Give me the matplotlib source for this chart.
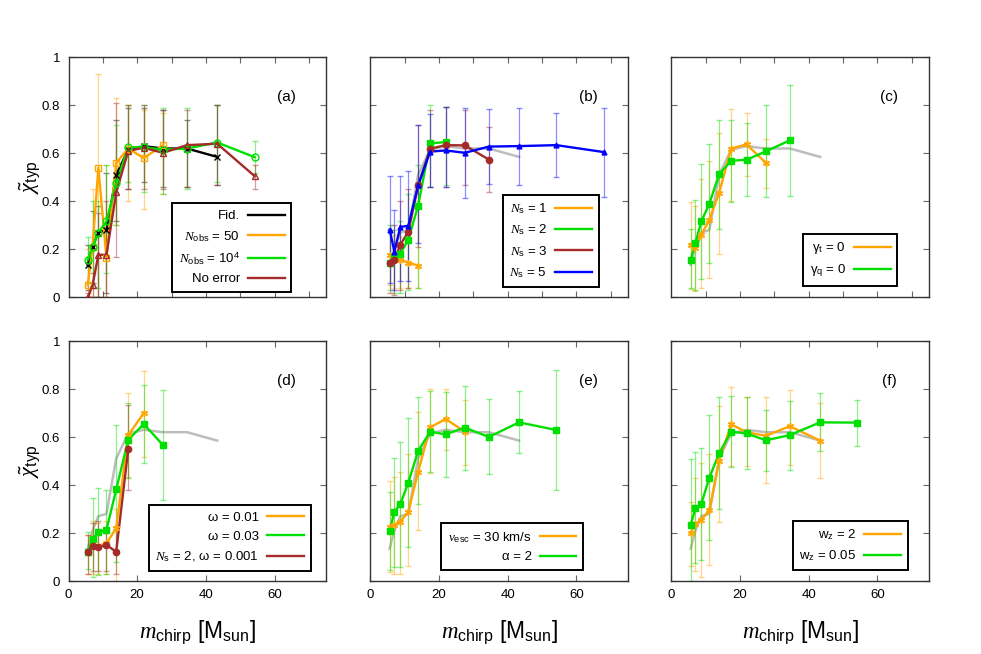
import numpy as np
import matplotlib
matplotlib.use("Agg")
import matplotlib.pyplot as plt

plt.rcParams["font.family"] = ["Liberation Sans", "DejaVu Sans"]
plt.rcParams["mathtext.fontset"] = "custom"
plt.rcParams["mathtext.rm"] = "Liberation Sans"
plt.rcParams["mathtext.it"] = "Liberation Serif:italic"

# chirp-mass bins (M_sun)
MC = [5.6, 7.0, 8.7, 11.05, 13.9, 17.4, 21.9, 27.5, 34.5, 43.3, 54.2, 68.0]

# (a)
FID_Y = [0.135, 0.21, 0.27, 0.28, 0.51, 0.615, 0.63, 0.62, 0.62, 0.585]
FID_LO = [0.03, 0.06, 0.0, 0.02, 0.32, 0.45, 0.48, 0.46, 0.46, 0.47]
FID_HI = [0.22, 0.36, 0.38, 0.52, 0.74, 0.79, 0.79, 0.78, 0.74, 0.80]
NOBS50_Y = [0.05, 0.21, 0.54, 0.165, 0.56, 0.62, 0.58, 0.633]
NOBS50_LO = [0.0, 0.0, 0.0, 0.0, 0.30, 0.40, 0.37, 0.43]
NOBS50_HI = [0.20, 0.45, 0.93, 0.55, 0.83, 0.80, 0.78, 0.77]
NOBS1E4_Y = [0.156, 0.21, 0.27, 0.316, 0.475, 0.625, 0.625, 0.615, 0.62, 0.645, 0.584]
NOBS1E4_LO = [0.06, 0.04, 0.04, 0.10, 0.30, 0.48, 0.44, 0.43, 0.45, 0.48, 0.52]
NOBS1E4_HI = [0.25, 0.40, 0.40, 0.55, 0.72, 0.80, 0.80, 0.79, 0.79, 0.80, 0.65]
NOERR_Y = [0.0, 0.05, 0.177, 0.177, 0.437, 0.61, 0.623, 0.602, 0.634, 0.64, 0.505]
NOERR_LO = [0.0, 0.0, 0.0, 0.0, 0.17, 0.45, 0.45, 0.45, 0.46, 0.47, 0.45]
NOERR_HI = [0.02, 0.10, 0.35, 0.40, 0.81, 0.80, 0.80, 0.78, 0.78, 0.80, 0.55]

# (b)
NS1_Y = [0.177, 0.159, 0.156, 0.145, 0.132]
NS1_LO = [0.05, 0.04, 0.04, 0.04, 0.04]
NS1_HI = [0.28, 0.26, 0.25, 0.25, 0.40]
NS2_Y = [0.142, 0.17, 0.181, 0.24, 0.382, 0.641, 0.647]
NS2_LO = [0.03, 0.02, 0.02, 0.03, 0.04, 0.46, 0.47]
NS2_HI = [0.30, 0.28, 0.32, 0.43, 0.55, 0.80, 0.795]
NS3_Y = [0.142, 0.156, 0.219, 0.272, 0.466, 0.619, 0.634, 0.633, 0.574]
NS3_LO = [0.02, 0.01, 0.03, 0.04, 0.21, 0.46, 0.46, 0.47, 0.44]
NS3_HI = [0.28, 0.30, 0.40, 0.45, 0.72, 0.78, 0.795, 0.78, 0.71]
NS5_Y = [0.282, 0.19, 0.293, 0.298, 0.466, 0.607, 0.612, 0.602, 0.628, 0.63, 0.634, 0.605]
NS5_LO = [0.06, 0.03, 0.07, 0.07, 0.225, 0.46, 0.46, 0.414, 0.473, 0.47, 0.50, 0.417]
NS5_HI = [0.505, 0.362, 0.507, 0.528, 0.72, 0.763, 0.795, 0.79, 0.784, 0.79, 0.77, 0.79]

# (c)
GT_Y = [0.22, 0.205, 0.26, 0.323, 0.435, 0.62, 0.637, 0.56]
GT_LO = [0.033, 0.028, 0.04, 0.08, 0.181, 0.40, 0.505, 0.456]
GT_HI = [0.397, 0.382, 0.494, 0.567, 0.683, 0.784, 0.766, 0.661]
GQ_Y = [0.156, 0.226, 0.316, 0.39, 0.513, 0.569, 0.573, 0.608, 0.654]
GQ_LO = [0.038, 0.03, 0.075, 0.145, 0.286, 0.396, 0.421, 0.418, 0.421]
GQ_HI = [0.285, 0.407, 0.556, 0.64, 0.739, 0.74, 0.728, 0.80, 0.885]

# (d)
W001_Y = [0.122, 0.147, 0.147, 0.157, 0.22, 0.608, 0.699]
W001_LO = [0.03, 0.03, 0.03, 0.03, 0.0, 0.435, 0.515]
W001_HI = [0.19, 0.25, 0.24, 0.25, 0.30, 0.782, 0.875]
W003_Y = [0.122, 0.174, 0.203, 0.212, 0.382, 0.588, 0.654, 0.567]
W003_LO = [0.05, 0.018, 0.025, 0.03, 0.08, 0.428, 0.49, 0.3375]
W003_HI = [0.205, 0.345, 0.386, 0.38, 0.65, 0.74, 0.817, 0.796]
NS2W_Y = [0.122, 0.147, 0.14, 0.15, 0.122, 0.549]
NS2W_LO = [0.03, 0.04, 0.04, 0.04, 0.03, 0.38]
NS2W_HI = [0.19, 0.243, 0.25, 0.20, 0.226, 0.733]

# (e)
VESC_Y = [0.226, 0.233, 0.247, 0.288, 0.455, 0.64, 0.675, 0.622]
VESC_LO = [0.036, 0.03, 0.03, 0.064, 0.2125, 0.45, 0.546, 0.483]
VESC_HI = [0.417, 0.435, 0.453, 0.529, 0.705, 0.80, 0.799, 0.754]
ALPHA_Y = [0.208, 0.289, 0.32, 0.41, 0.542, 0.622, 0.611, 0.639, 0.60, 0.661, 0.629]
ALPHA_LO = [0.046, 0.06, 0.057, 0.14, 0.32, 0.455, 0.432, 0.4625, 0.444, 0.532, 0.379]
ALPHA_HI = [0.372, 0.514, 0.58, 0.68, 0.765, 0.79, 0.789, 0.814, 0.758, 0.79, 0.879]

# (f)
WZ2_Y = [0.2, 0.238, 0.255, 0.295, 0.50, 0.653, 0.62, 0.605, 0.645, 0.585]
WZ2_LO = [0.0625, 0.04, 0.018, 0.067, 0.247, 0.48, 0.48, 0.41, 0.483, 0.43]
WZ2_HI = [0.328, 0.428, 0.49, 0.528, 0.73, 0.81, 0.768, 0.768, 0.796, 0.74]
WZ005_Y = [0.233, 0.303, 0.321, 0.43, 0.532, 0.622, 0.615, 0.586, 0.608, 0.661, 0.66]
WZ005_LO = [0.0, 0.076, 0.0875, 0.171, 0.30, 0.474, 0.467, 0.46, 0.4625, 0.542, 0.5625]
WZ005_HI = [0.507, 0.539, 0.553, 0.69, 0.765, 0.77, 0.768, 0.7125, 0.751, 0.782, 0.754]

ORANGE = "#ffa500"
GREEN = "#00e000"
RED = "#a52a2a"
BLUE = "#0000ff"
GREY = "#bdbdbd"
ASTER = (6, 2, 0)


def series(ax, y, lo, hi, color, label, marker, ms=4.5, mfc=None, lw=1.7):
    n = len(y)
    x = np.array(MC[:n])
    y, lo, hi = np.array(y), np.array(lo), np.array(hi)
    ax.errorbar(x, y, yerr=[y - lo, hi - y], fmt="none", ecolor=color,
                elinewidth=0.9, capsize=2.5, alpha=0.45, zorder=2)
    ax.plot(x, y, color=color, lw=lw, zorder=4, label=label)
    ax.plot(x, y, ls="none", marker=marker, ms=ms, color=color,
            mfc=color if mfc is None else mfc, mew=1.0, zorder=5)


def fid_grey(ax):
    ax.plot(MC[:len(FID_Y)], FID_Y, color=GREY, lw=1.8, zorder=1)


def legend(ax, right, bottom):
    leg = ax.legend(loc="lower right", bbox_to_anchor=(right, bottom),
                    borderaxespad=0, markerfirst=False, fontsize=9.5,
                    handlelength=2.8, handletextpad=0.6, labelspacing=0.5,
                    borderpad=0.5, fancybox=False, framealpha=1)
    leg.get_frame().set_edgecolor("black")
    leg.get_frame().set_linewidth(1.4)


fig = plt.figure(figsize=(9.81, 6.54), dpi=100)
W, H = 981, 654
lefts = [68.5, 370.4, 671.4]
tops = [57.3, 341.0]
axes = []
for r in range(2):
    for c in range(3):
        ax = fig.add_axes([lefts[c] / W, 1 - (tops[r] + 240) / H, 257.5 / W, 240 / H])
        ax.set_xlim(0, 75)
        ax.set_ylim(0, 1)
        ax.set_yticks([0, 0.2, 0.4, 0.6, 0.8, 1.0])
        ax.set_yticklabels(["0", "0.2", "0.4", "0.6", "0.8", "1"] if c == 0 else [])
        if r == 0:
            ax.set_xticks(range(10, 80, 10))
            ax.set_xticklabels([])
        else:
            ax.set_xticks([0, 20, 40, 60])
            ax.set_xticklabels(["0", "20", "40", "60"])
            ax.set_xlabel(r"$m_{\rm chirp}$ [M$_{\rm sun}$]", fontsize=16.5, labelpad=12)
        if c == 0:
            ax.set_ylabel(r"$\tilde{\chi}_{\rm typ}$", fontsize=16, labelpad=0)
        ax.tick_params(direction="in", top=True, right=True, length=4,
                       color="#666666", labelsize=9.5, pad=6)
        for s in ax.spines.values():
            s.set_color("#333333")
            s.set_linewidth(1)
        axes.append(ax)

a, b, cc, d, e, f = axes

# (a)
series(a, FID_Y, FID_LO, FID_HI, "black", "Fid.", "x", ms=4.5)
series(a, NOBS50_Y, NOBS50_LO, NOBS50_HI, ORANGE, r"$N_{\rm obs}$ = 50", "s", ms=5, mfc="none")
series(a, NOBS1E4_Y, NOBS1E4_LO, NOBS1E4_HI, GREEN, r"$N_{\rm obs}$ = 10$^4$", "o", ms=5, mfc="none")
series(a, NOERR_Y, NOERR_LO, NOERR_HI, RED, "No error", "^", ms=5, mfc="none")
legend(a, 0.865, 0.022)

# (b)
fid_grey(b)
series(b, NS1_Y, NS1_LO, NS1_HI, ORANGE, r"$N_{\rm s}$ = 1", ASTER, ms=5)
series(b, NS2_Y, NS2_LO, NS2_HI, GREEN, r"$N_{\rm s}$ = 2", "s", ms=4.5)
series(b, NS3_Y, NS3_LO, NS3_HI, RED, r"$N_{\rm s}$ = 3", "o", ms=4.5)
series(b, NS5_Y, NS5_LO, NS5_HI, BLUE, r"$N_{\rm s}$ = 5", "^", ms=3.5)
legend(b, 0.887, 0.044)

# (c)
fid_grey(cc)
series(cc, GT_Y, GT_LO, GT_HI, ORANGE, "γ$_{\\rm t}$ = 0", ASTER, ms=5)
series(cc, GQ_Y, GQ_LO, GQ_HI, GREEN, "γ$_{\\rm q}$ = 0", "s", ms=4.5)
legend(cc, 0.877, 0.047)

# (d)
fid_grey(d)
series(d, W001_Y, W001_LO, W001_HI, ORANGE, "ω = 0.01", ASTER, ms=5)
series(d, W003_Y, W003_LO, W003_HI, GREEN, "ω = 0.03", "s", ms=4.5)
series(d, NS2W_Y, NS2W_LO, NS2W_HI, RED, r"$N_{\rm s}$ = 2, ω = 0.001", "o", ms=4.5)
legend(d, 0.94, 0.043)

# (e)
fid_grey(e)
series(e, VESC_Y, VESC_LO, VESC_HI, ORANGE, r"$v_{\rm esc}$ = 30 km/s", ASTER, ms=5)
series(e, ALPHA_Y, ALPHA_LO, ALPHA_HI, GREEN, "α = 2", "s", ms=4.5)
legend(e, 0.826, 0.046)

# (f)
fid_grey(f)
series(f, WZ2_Y, WZ2_LO, WZ2_HI, ORANGE, "w$_{\\rm z}$ = 2", ASTER, ms=5)
series(f, WZ005_Y, WZ005_LO, WZ005_HI, GREEN, "w$_{\\rm z}$ = 0.05", "s", ms=4.5)
legend(f, 0.918, 0.046)

for ax, lab in zip(axes, ["(a)", "(b)", "(c)", "(d)", "(e)", "(f)"]):
    ax.text(0.845, 0.835, lab, transform=ax.transAxes, fontsize=11,
            ha="center", va="center")

fig.savefig("out.png", dpi=100)
